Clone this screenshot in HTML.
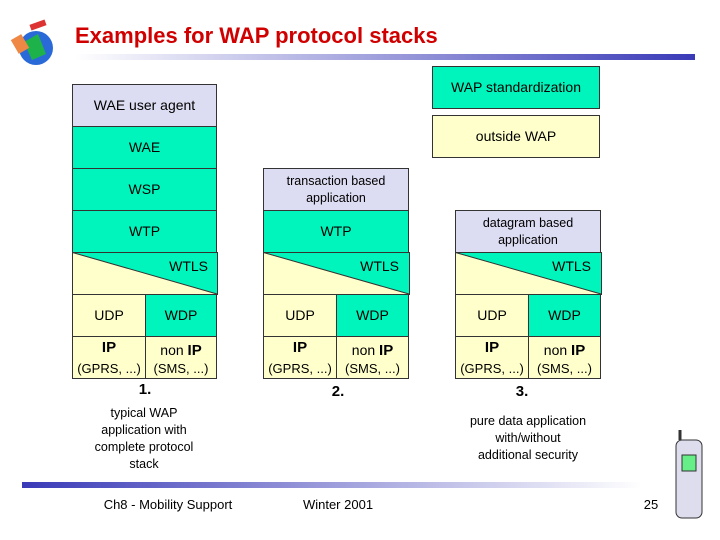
<!DOCTYPE html>
<html><head><meta charset="utf-8"><style>
body{margin:0;width:720px;height:540px;background:#fff;position:relative;overflow:hidden;font-family:"Liberation Sans",sans-serif;}
.b{position:absolute;box-sizing:border-box;border:1px solid #333;display:flex;align-items:center;justify-content:center;text-align:center;font-size:14px;color:#000;line-height:17px}
.g{background:#00F5BC}.l{background:#DCDCF2}.c{background:#FFFFCC}
.ip{flex-direction:column;justify-content:space-between;font-size:13px;line-height:15px;padding:3px 0 2px}
.ip b{font-size:15px}
.t{position:absolute;font-size:12.5px;text-align:center;line-height:17px}
.n{font-weight:bold;font-size:15px}
</style></head><body>
<svg width="720" height="540" style="position:absolute;left:0;top:0">
<defs>
<linearGradient id="g1" x1="0" x2="1"><stop offset="0" stop-color="#fff"/><stop offset="1" stop-color="#3A3AB8"/></linearGradient>
<linearGradient id="g2" x1="0" x2="1"><stop offset="0" stop-color="#3A3AB8"/><stop offset="1" stop-color="#fff"/></linearGradient>
</defs>
<rect x="75" y="54" width="620" height="6" fill="url(#g1)"/>
<rect x="22" y="482" width="620" height="6" fill="url(#g2)"/>
<circle cx="36" cy="48" r="17" fill="#2a6ad8"/>
<path d="M24 42 L38 34 L46 54 L32 60Z" fill="#1db34a"/>
<rect x="14" y="36" width="12" height="16" fill="#e84" transform="rotate(-30 20 44)"/>
<rect x="30" y="22" width="16" height="6" fill="#d33" transform="rotate(-20 38 25)"/>
<rect x="676" y="440" width="26" height="78" rx="6" fill="#dde" stroke="#333"/>
<rect x="682" y="455" width="14" height="16" fill="#6e8" stroke="#333"/>
<line x1="680" y1="440" x2="680" y2="430" stroke="#333" stroke-width="3"/>
</svg>
<div style="position:absolute;left:75px;top:23px;font-size:22px;font-weight:bold;color:#D00000">Examples for WAP protocol stacks</div>

<div class="b g" style="left:432px;top:66px;width:168px;height:43px">WAP standardization</div>
<div class="b c" style="left:432px;top:115px;width:168px;height:43px">outside WAP</div>

<div class="b l" style="left:72px;top:84px;width:145px;height:43px">WAE user agent</div>
<div class="b g" style="left:72px;top:126px;width:145px;height:43px">WAE</div>
<div class="b g" style="left:72px;top:168px;width:145px;height:43px">WSP</div>
<div class="b g" style="left:72px;top:210px;width:145px;height:43px">WTP</div>

<div class="b l" style="left:263px;top:168px;width:146px;height:43px;font-size:12.5px">transaction based<br>application</div>
<div class="b g" style="left:263px;top:210px;width:146px;height:43px">WTP</div>

<div class="b l" style="left:455px;top:210px;width:146px;height:43px;font-size:12.5px">datagram based<br>application</div>

<div style="position:absolute;left:72px;top:252px">
<svg width="146" height="43" style="position:absolute;left:0;top:0"><rect x="0.5" y="0.5" width="145" height="42" fill="#00F5BC" stroke="#333"/><polygon points="1,1 145,42 1,42" fill="#FFFFCC"/><line x1="0.5" y1="0.5" x2="145" y2="42" stroke="#333"/><text x="136" y="19" font-size="14" text-anchor="end" font-family="Liberation Sans">WTLS</text></svg>
</div>
<div style="position:absolute;left:263px;top:252px">
<svg width="147" height="43" style="position:absolute;left:0;top:0"><rect x="0.5" y="0.5" width="146" height="42" fill="#00F5BC" stroke="#333"/><polygon points="1,1 146,42 1,42" fill="#FFFFCC"/><line x1="0.5" y1="0.5" x2="146" y2="42" stroke="#333"/><text x="136" y="19" font-size="14" text-anchor="end" font-family="Liberation Sans">WTLS</text></svg>
</div>
<div style="position:absolute;left:455px;top:252px">
<svg width="147" height="43" style="position:absolute;left:0;top:0"><rect x="0.5" y="0.5" width="146" height="42" fill="#00F5BC" stroke="#333"/><polygon points="1,1 146,42 1,42" fill="#FFFFCC"/><line x1="0.5" y1="0.5" x2="146" y2="42" stroke="#333"/><text x="136" y="19" font-size="14" text-anchor="end" font-family="Liberation Sans">WTLS</text></svg>
</div>

<div class="b c" style="left:72px;top:294px;width:74px;height:43px">UDP</div>
<div class="b g" style="left:145px;top:294px;width:72px;height:43px">WDP</div>
<div class="b c ip" style="left:72px;top:336px;width:74px;height:43px"><b>IP</b>(GPRS, ...)</div>
<div class="b c ip" style="left:145px;top:336px;width:72px;height:43px;padding-top:6px"><span style="font-size:14px">non <b>IP</b></span>(SMS, ...)</div>

<div class="b c" style="left:263px;top:294px;width:74px;height:43px">UDP</div>
<div class="b g" style="left:336px;top:294px;width:73px;height:43px">WDP</div>
<div class="b c ip" style="left:263px;top:336px;width:74px;height:43px"><b>IP</b>(GPRS, ...)</div>
<div class="b c ip" style="left:336px;top:336px;width:73px;height:43px;padding-top:6px"><span style="font-size:14px">non <b>IP</b></span>(SMS, ...)</div>

<div class="b c" style="left:455px;top:294px;width:74px;height:43px">UDP</div>
<div class="b g" style="left:528px;top:294px;width:73px;height:43px">WDP</div>
<div class="b c ip" style="left:455px;top:336px;width:74px;height:43px"><b>IP</b>(GPRS, ...)</div>
<div class="b c ip" style="left:528px;top:336px;width:73px;height:43px;padding-top:6px"><span style="font-size:14px">non <b>IP</b></span>(SMS, ...)</div>

<div class="t n" style="left:125px;top:381px;width:40px">1.</div>
<div class="t n" style="left:318px;top:383px;width:40px">2.</div>
<div class="t n" style="left:502px;top:383px;width:40px">3.</div>
<div class="t" style="left:74px;top:405px;width:140px">typical WAP<br>application with<br>complete protocol<br>stack</div>
<div class="t" style="left:448px;top:413px;width:160px">pure data application<br>with/without<br>additional security</div>

<div class="t" style="left:90px;top:496px;width:156px;font-size:13px">Ch8 - Mobility Support</div>
<div class="t" style="left:290px;top:496px;width:96px;font-size:13px">Winter 2001</div>
<div class="t" style="left:636px;top:496px;width:30px;font-size:13px">25</div>
</body></html>
